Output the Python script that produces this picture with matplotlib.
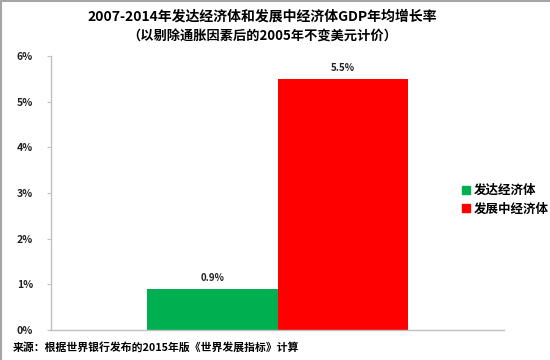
import matplotlib.pyplot as plt
from matplotlib.lines import Line2D
from matplotlib.ticker import FuncFormatter

plt.rcParams['font.family'] = ['Noto Sans CJK SC', 'DejaVu Sans']

series = ['发达经济体', '发展中经济体']
growth = [0.9, 5.5]
colors = ['#00b050', '#ff0000']
yticks = [0, 1, 2, 3, 4, 5, 6]

title = '2007-2014年发达经济体和发展中经济体GDP年均增长率'
subtitle = '（以剔除通胀因素后的2005年不变美元计价）'
source = '来源：根据世界银行发布的2015年版《世界发展指标》计算'

fig = plt.figure(figsize=(5.5, 3.6), dpi=100)
ax = fig.add_axes([0.0927, 0.0833, 0.8237, 0.7611])

width = 0.287
for i, (name, val, c) in enumerate(zip(series, growth, colors)):
    x = (i - 0.5) * width
    ax.bar(x, val, width=width, color=c, label=name)
    ax.text(x, val + 0.12, f'{val:.1f}%', ha='center', va='bottom',
            fontsize=7, fontweight='bold', color='#222222')

ax.set_xlim(-0.5, 0.5)
ax.set_ylim(0, 6)
ax.set_yticks(yticks)
ax.yaxis.set_major_formatter(FuncFormatter(lambda v, p: f'{v:.0f}%'))
ax.set_xticks([])
for s in ['top', 'right']:
    ax.spines[s].set_visible(False)
for s in ['left', 'bottom']:
    ax.spines[s].set_color('#bfbfbf')
    ax.spines[s].set_linewidth(1)
ax.tick_params(axis='y', colors='#bfbfbf', length=3, width=0.8,
               labelcolor='#222222', labelsize=7.5, pad=10)
for lab in ax.get_yticklabels():
    lab.set_fontweight('bold')

handles = [Line2D([], [], marker='s', linestyle='', markersize=6,
                  markerfacecolor=c, markeredgecolor=c) for c in colors]
fig.legend(handles, series, loc='center left', bbox_to_anchor=(0.82, 0.445),
           frameon=False, handlelength=0.6, handletextpad=0.35,
           labelspacing=0.45, prop={'size': 9, 'weight': 'bold'})

fig.text(0.477, 0.955, title, ha='center', va='center', fontsize=10, fontweight='bold')
fig.text(0.477, 0.898, subtitle, ha='center', va='center', fontsize=9.5, fontweight='bold')
fig.text(0.024, 0.036, source, ha='left', va='center', fontsize=7.8, fontweight='bold')

fig.add_artist(Line2D([0.002, 0.002], [0, 1], color='#a6a6a6', linewidth=1.5,
                      transform=fig.transFigure))
fig.add_artist(Line2D([0, 1], [0.998, 0.998], color='#a6a6a6', linewidth=1.5,
                      transform=fig.transFigure))

fig.savefig('out.png', dpi=100)
